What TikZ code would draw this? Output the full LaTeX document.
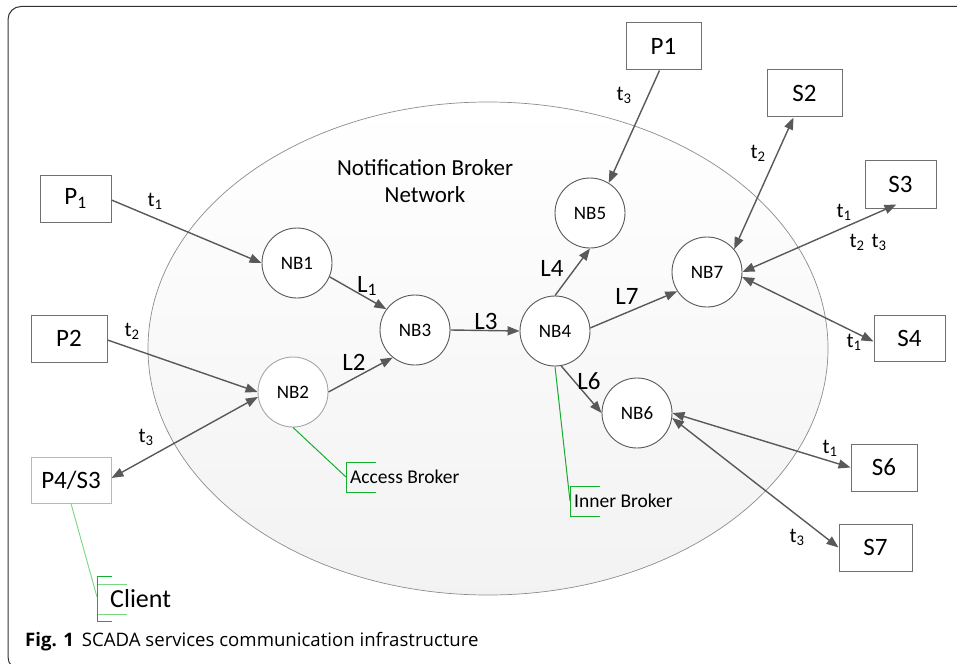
\documentclass[tikz,border=0pt]{standalone}
\usepackage{fontspec}
\setmainfont{Carlito}
\newfontfamily\capfont{Open Sans}
\usetikzlibrary{arrows.meta}
\definecolor{arr}{HTML}{595959}
\definecolor{boxc}{HTML}{707070}
\definecolor{gr}{RGB}{20,175,45}
\definecolor{lgr}{RGB}{120,215,130}
\tikzset{
  box/.style={draw=boxc, line width=1pt, fill=white, inner sep=0pt, minimum height=47pt, font=\fontsize{25}{28}\selectfont},
  nb/.style={circle, draw=arr, line width=0.9pt, fill=white, minimum size=70pt, inner sep=0pt, font=\fontsize{19}{22}\selectfont},
  con/.style={draw=arr, line width=1.4pt, -{Triangle[length=12pt,width=9pt]}},
  dcon/.style={draw=arr, line width=1.4pt, {Triangle[length=12pt,width=9pt]}-{Triangle[length=12pt,width=9pt]}},
  tl/.style={font=\fontsize{21}{24}\selectfont, inner sep=0pt},
  ll/.style={font=\fontsize{25}{28}\selectfont, inner sep=0pt},
  call/.style={draw=gr, line width=1pt},
}
\begin{document}
\begin{tikzpicture}[x=1pt,y=-1pt]
\useasboundingbox (0,0) rectangle (957,663);
% frame
\draw[line width=1pt, draw=black!80, rounded corners=13pt] (8,6.5) rectangle (990,670);
% ellipse
\path[draw=black!45, line width=0.7pt, top color=white, bottom color=black!5] (488,348.5) ellipse [x radius=340, y radius=246.5];
\node[align=center, font=\fontsize{23}{27}\selectfont, inner sep=0pt] (title) at (425,181) {Notification Broker\\Network};

% circles
\node[nb] (NB1) at (297,263) {NB1};
\node[nb] (NB3) at (415,330) {NB3};
\node[nb, draw=black!35] (NB2) at (293,392) {NB2};
\node[nb] (NB4) at (555,331) {NB4};
\node[nb] (NB5) at (590,213) {NB5};
\node[nb] (NB7) at (707,272) {NB7};
\node[nb] (NB6) at (637,413) {NB6};

% boxes
\node[box, minimum width=71pt] (P1a) at (75.5,198.5) {P\textsubscript{1}};
\node[box, minimum width=76pt] (P2) at (69,338.5) {P2};
\node[box, minimum width=80pt, minimum height=46pt, draw=black!28] (P4) at (71,480) {P4/S3};
\node[box, minimum width=75pt] (P1) at (663.5,46.5) {P1};
\node[box, minimum width=75pt] (S2) at (804.5,93.5) {S2};
\node[box, minimum width=71pt] (S3) at (900.5,184.5) {S3};
\node[box, minimum width=71pt, minimum height=46pt] (S4) at (909.5,338.5) {S4};
\node[box, minimum width=66pt] (S6) at (884,467.5) {S6};
\node[box, minimum width=73pt] (S7) at (875.5,547.5) {S7};

% connectors
\draw[con] ([yshift=-1.5pt]P1a.east) -- (NB1.west);
\draw[con] (NB1.-23) -- (NB3.144);
\draw[con] ([yshift=-1.5pt]P2.east) -- (NB2.west);
\draw[dcon] (NB2.188) -- ([yshift=2pt]P4.east);
\draw[con] (NB2.east) -- (NB3.231);
\draw[con] (NB3.east) -- (NB4.west);
\draw[con] (NB4.north) -- (NB5.south);
\draw[con] (NB4.5) -- (NB7.213);
\draw[con] (NB4.-80) -- (NB6.west);
\draw[con] ([xshift=-4pt]P1.south) -- (NB5.58);
\draw[dcon] ([xshift=-11pt]S2.south) -- (NB7.40);
\draw[dcon] ([xshift=-4pt,yshift=4pt]S3.south) -- (NB7.east);
\draw[dcon] (NB7.-8) -- ([yshift=-3pt]S4.west);
\draw[dcon] (NB6.east) -- (S6.west);
\draw[dcon] (NB6.-8) -- (S7.west);

% connector labels
\node[tl] (t1a) at (155,201) {t\textsubscript{1}};
\node[tl] (t2a) at (132,331) {t\textsubscript{2}};
\node[tl] (t3a) at (146,437) {t\textsubscript{3}};
\node[ll] (L1) at (367,286) {L\textsubscript{1}};
\node[ll] (L2) at (354,362) {L2};
\node[ll] (L3) at (486,321) {L3};
\node[ll] (L4) at (552,268) {L4};
\node[ll] (L7) at (627,296) {L7};
\node[ll] (L6) at (589,381) {L6};
\node[tl] (t3b) at (624,95) {t\textsubscript{3}};
\node[tl] (t2b) at (758,153) {t\textsubscript{2}};
\node[tl] (t1b) at (844,212) {t\textsubscript{1}};
\node[tl] (t23) at (868,242) {t\textsubscript{2}\hspace{7pt}t\textsubscript{3}};
\node[tl] (t1c) at (854,342) {t\textsubscript{1}};
\node[tl] (t1d) at (830,448) {t\textsubscript{1}};
\node[tl] (t3c) at (797,537) {t\textsubscript{3}};

% callouts
\coordinate (abk) at (346,477);
\draw[call] (NB2.south) -- (abk);
\draw[call] (376,462) -- (346,462) -- (346,492) -- (376,492);
\node[anchor=west, font=\fontsize{19.5}{22}\selectfont, inner sep=0pt] (acc) at (350,477) {Access Broker};

\coordinate (ibk) at (570,501);
\draw[call] (NB4.south) -- (ibk);
\draw[call] (600,486) -- (570,486) -- (570,516) -- (600,516);
\node[anchor=west, font=\fontsize{19.5}{22}\selectfont, inner sep=0pt] (inn) at (574,501) {Inner Broker};

\coordinate (cbk) at (97,597);
\draw[draw=lgr, line width=0.9pt] (P4.south) -- (cbk);
\draw[draw=lgr, line width=0.9pt] (97,584) -- (127,584) (97,614) -- (127,614);
\draw[call] (112,576) -- (97,576) -- (97,621) -- (112,621);
\node[anchor=west, font=\fontsize{26}{30}\selectfont, inner sep=0pt] (cli) at (110,599) {Client};

% caption
\node[anchor=west, inner sep=0pt, font=\capfont\fontsize{18.6}{22}\selectfont] (cap) at (25,642) {\textbf{Fig. 1}\hspace{8pt}SCADA services communication infrastructure};
\end{tikzpicture}
\end{document}
